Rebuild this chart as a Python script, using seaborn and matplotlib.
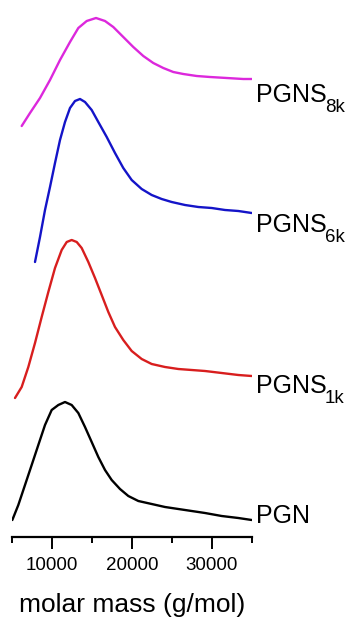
import numpy as np
import pandas as pd
import matplotlib
matplotlib.use('Agg')
import matplotlib.pyplot as plt
import seaborn as sns
from matplotlib.ticker import MultipleLocator

# GPC traces (signal in arbitrary units, stacked by offset)
pgn_m = [5040, 5790, 6625, 7460, 8290, 9125, 9960, 10790, 11625, 12460, 13290, 14125,
         14960, 15790, 16625, 17460, 18500, 19540, 20790, 22460, 24125, 25790, 27460,
         29125, 31210, 33290, 34960]
pgn_s = [0.17, 0.32, 0.52, 0.72, 0.92, 1.12, 1.27, 1.32, 1.35, 1.32, 1.24, 1.10,
         0.95, 0.80, 0.67, 0.57, 0.48, 0.41, 0.36, 0.33, 0.30, 0.28, 0.26,
         0.24, 0.21, 0.19, 0.17]

pgns1k_m = [5375, 6210, 7040, 7875, 8710, 9540, 10375, 11210, 11840, 12460, 13090,
            13710, 14540, 15375, 16210, 17040, 17875, 18910, 19960, 21210, 22460,
            24125, 25790, 27460, 29125, 31210, 33290, 34960]
pgns1k_s = [0.09, 0.20, 0.40, 0.64, 0.90, 1.15, 1.39, 1.57, 1.65, 1.67, 1.65,
            1.59, 1.45, 1.29, 1.12, 0.95, 0.80, 0.67, 0.56, 0.48, 0.43,
            0.40, 0.38, 0.37, 0.36, 0.34, 0.32, 0.31]

pgns6k_m = [7875, 8500, 9125, 9750, 10375, 11000, 11625, 12250, 12875, 13500, 14125,
            14960, 15790, 16840, 17875, 18910, 19960, 21210, 22460, 23710, 24960,
            26625, 28290, 29960, 31625, 33290, 34960]
pgns6k_s = [0.15, 0.40, 0.67, 0.90, 1.14, 1.37, 1.55, 1.69, 1.76, 1.78, 1.75,
            1.67, 1.55, 1.40, 1.24, 1.09, 0.97, 0.88, 0.82, 0.78, 0.75,
            0.72, 0.70, 0.69, 0.67, 0.66, 0.64]

pgns8k_m = [6212, 7250, 8500, 9750, 11000, 12250, 13290, 14340, 15500, 16625, 17660,
            18910, 20160, 21410, 22660, 23910, 25160, 26410, 28090, 29750, 31840,
            33910, 34960]
pgns8k_s = [0.11, 0.24, 0.39, 0.57, 0.77, 0.95, 1.09, 1.16, 1.19, 1.16, 1.10,
            1.00, 0.90, 0.81, 0.74, 0.69, 0.65, 0.63, 0.61, 0.60, 0.59,
            0.58, 0.58]

names = ['PGN', 'PGNS1k', 'PGNS6k', 'PGNS8k']
label_main = ['PGN', 'PGNS', 'PGNS', 'PGNS']
label_sub = ['', '1k', '6k', '8k']
offsets = [0.0, 1.3, 2.6, 4.0]
label_y = [0.14, 1.44, 3.05, 4.35]
colors = ['#000000', '#d81e1e', '#1414c8', '#dc28dc']

frames = []
for name, m, s, off in zip(names, [pgn_m, pgns1k_m, pgns6k_m, pgns8k_m],
                           [pgn_s, pgns1k_s, pgns6k_s, pgns8k_s], offsets):
    frames.append(pd.DataFrame({'M': m, 'signal': np.array(s) + off, 'sample': name}))
df = pd.concat(frames, ignore_index=True)

sns.set_theme(style='white')
plt.rcParams['font.family'] = ['Liberation Sans', 'DejaVu Sans']
plt.rcParams['text.color'] = 'black'
plt.rcParams['axes.labelcolor'] = 'black'
plt.rcParams['xtick.color'] = 'black'

fig = plt.figure(figsize=(3.53, 6.19), dpi=100)
ax = fig.add_axes([12 / 353, 82 / 619, 240 / 353, 537 / 619])

sns.lineplot(data=df, x='M', y='signal', hue='sample', palette=dict(zip(names, colors)),
             linewidth=1.7, sort=False, legend=False, ax=ax)

for main, sub, ly in zip(label_main, label_sub, label_y):
    t = ax.text(35500, ly, main, fontsize=18, va='baseline', ha='left', clip_on=False)
    if sub:
        ax.annotate(sub, xy=(1, 0), xycoords=t, xytext=(-1.5, -3.6),
                    textcoords='offset points', fontsize=13.5, va='baseline', ha='left')

ax.set_xlim(5000, 35000)
ax.set_ylim(0, 5.37)
ax.xaxis.set_major_locator(MultipleLocator(10000))
ax.xaxis.set_minor_locator(MultipleLocator(5000))
ax.tick_params(axis='x', which='major', direction='out', length=8.5, width=1.4,
               labelsize=13.5, pad=6, bottom=True, color='black', labelcolor='black')
ax.tick_params(axis='x', which='minor', direction='out', length=4.3, width=1.4,
               bottom=True, color='black')
ax.set_yticks([])
for side in ['left', 'top', 'right']:
    ax.spines[side].set_visible(False)
ax.spines['bottom'].set_linewidth(1.6)
ax.spines['bottom'].set_color('black')

ax.set_xlabel('molar mass (g/mol)', fontsize=19)
ax.set_ylabel('')
ax.xaxis.set_label_coords(0.5, -0.105)

fig.savefig('out.png', dpi=100)
